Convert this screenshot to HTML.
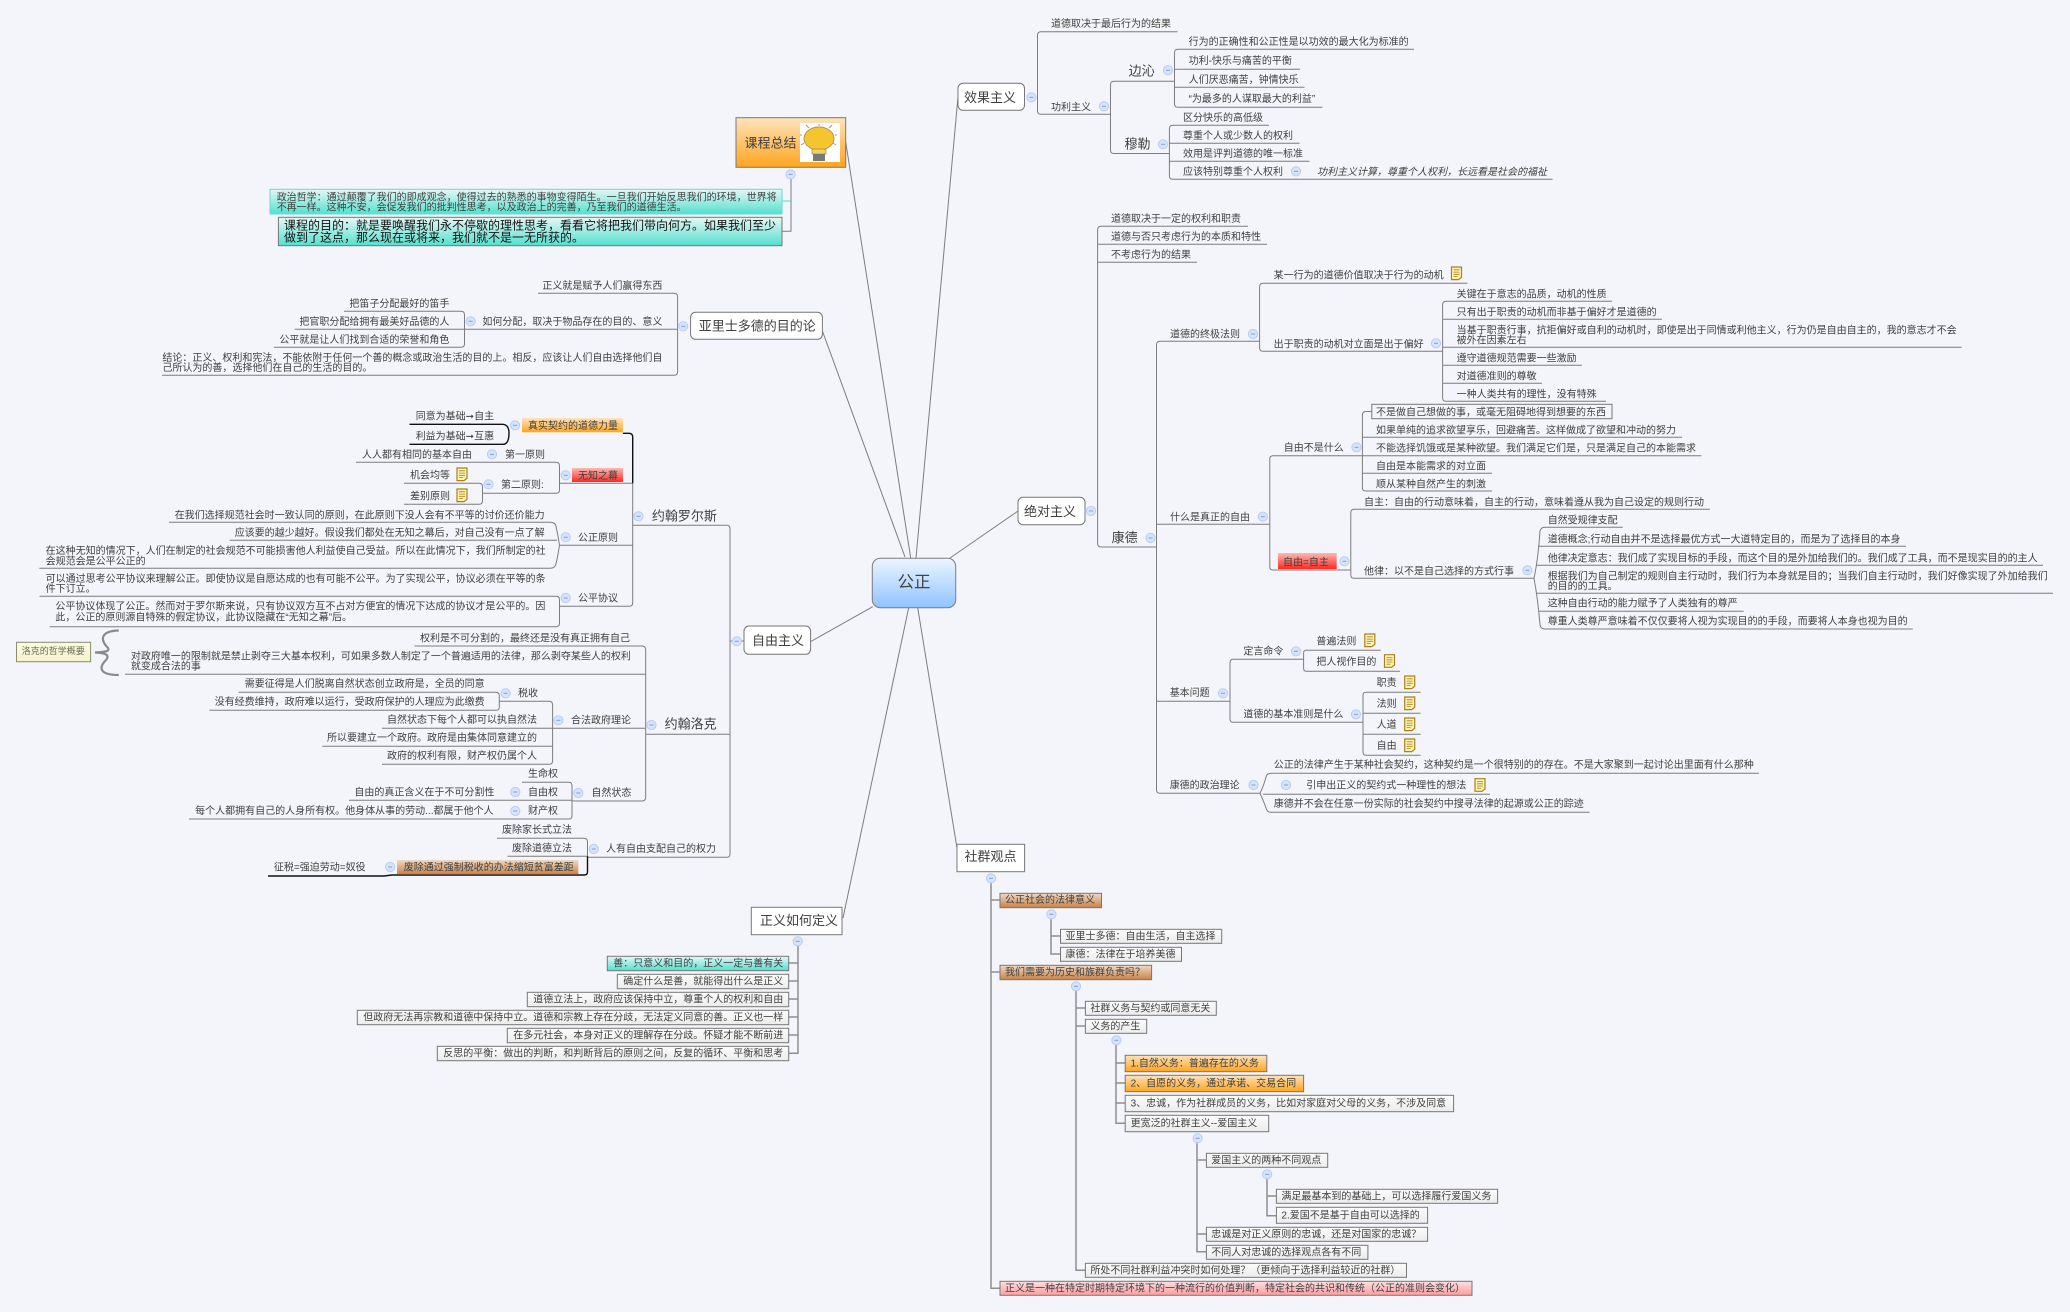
<!DOCTYPE html>
<html lang="zh"><head><meta charset="utf-8"><title>公正</title>
<style>
html,body{margin:0;padding:0;background:#f3f5fa}
svg{display:block;filter:blur(.3px)}
text{font-family:"Liberation Sans","Noto Sans CJK SC",sans-serif;font-size:10px;fill:#3f3f3f}
.b{font-size:13px;fill:#404040}
.r{text-anchor:end}
.l{fill:none;stroke:#7d7d7d;stroke-width:1}
.k{fill:none;stroke:#111;stroke-width:1.4}
.s{fill:none;stroke:#8f8f8f;stroke-width:1.5}
.bx{stroke:#777;stroke-width:1}
</style></head><body>
<svg xmlns="http://www.w3.org/2000/svg" width="2070" height="1312" viewBox="0 0 2070 1312">
<defs>
<linearGradient id="gw" x1="0" y1="0" x2="0" y2="1"><stop offset="0" stop-color="#fbfbfb"/><stop offset="1" stop-color="#ececec"/></linearGradient>
<linearGradient id="gt" x1="0" y1="0" x2="0" y2="1"><stop offset="0" stop-color="#e8f6f5"/><stop offset="1" stop-color="#52e0cf"/></linearGradient>
<linearGradient id="go" x1="0" y1="0" x2="0" y2="1"><stop offset="0" stop-color="#fde3bd"/><stop offset="1" stop-color="#ffa41e"/></linearGradient>
<linearGradient id="gb" x1="0" y1="0" x2="0" y2="1"><stop offset="0" stop-color="#f0dac4"/><stop offset="1" stop-color="#c98248"/></linearGradient>
<linearGradient id="gr" x1="0" y1="0" x2="0" y2="1"><stop offset="0" stop-color="#fbb9b4"/><stop offset="1" stop-color="#ff2a22"/></linearGradient>
<linearGradient id="gp" x1="0" y1="0" x2="0" y2="1"><stop offset="0" stop-color="#fde0e0"/><stop offset="1" stop-color="#ff9c9c"/></linearGradient>
<linearGradient id="gc" x1="0" y1="0" x2="0" y2="1"><stop offset="0" stop-color="#ecf5ff"/><stop offset="1" stop-color="#8fc4ff"/></linearGradient>
<linearGradient id="gy" x1="0" y1="0" x2="0" y2="1"><stop offset="0" stop-color="#fbfbe6"/><stop offset="1" stop-color="#f4f4cc"/></linearGradient>
<g id="t"><circle r="4.6" fill="#d5e3fb" stroke="#b6cdf5" stroke-width="1"/><path d="M-2 0H2" stroke="#7f9fd8" stroke-width="1"/></g>
<g id="n"><path d="M-5 -6.3H5V4L2 6.3H-5Z" fill="#fff3b5" stroke="#a8821a" stroke-width="1.2"/><path d="M-3 -3.5H3M-3 -1.2H3M-3 1H3M-3 3.2H1" stroke="#a8821a" stroke-width=".8"/></g>
</defs>
<rect width="2070" height="1312" fill="#f3f5fa"/>

<!-- root lines -->
<g class="l" stroke-width="1">
<path d="M916 558L958 97M910.7 558L845.7 142M905 557L822.4 331M950 558L1018 511M872.7 606.7L810 642M908.7 607.7L843 918M917.7 607.7L957 848"/>
</g>

<!-- 效果主义 -->
<path class="l" d="M1177.6 31.7H1041Q1037.5 31.7 1037.5 35V111Q1037.5 114.3 1041 114.3H1110M1174 81.3H1114Q1110.5 81.3 1110.5 85V150Q1110.5 153.5 1114 153.5H1169M1414 49.3H1178Q1174.5 49.3 1174.5 53V104Q1174.5 107.3 1178 107.3H1322.4M1174.5 69.3H1300M1174.5 87.3H1304.5M1269 125.3H1173Q1169.4 125.3 1169.4 129V176Q1169.4 179.3 1173 179.3H1552.6M1169.4 143.3H1299.6M1169.4 161.3H1309.4"/>
<rect x="958" y="83.3" width="66.5" height="27" rx="5" fill="#fff" stroke="#777"/>
<text class="b" x="964" y="102">效果主义</text>
<use href="#t" x="1031.4" y="97.3"/><use href="#t" x="1104" y="106.3"/><use href="#t" x="1168" y="70.3"/><use href="#t" x="1163" y="144.3"/><use href="#t" x="1296" y="171.3"/>
<text x="1051" y="27.1">道德取决于最后行为的结果</text>
<text x="1051" y="110.3">功利主义</text>
<text class="b" x="1128.6" y="75.3">边沁</text>
<text class="b" x="1124.5" y="148.3">穆勒</text>
<text x="1188.6" y="44.9">行为的正确性和公正性是以功效的最大化为标准的</text>
<text x="1188.6" y="63.9">功利-快乐与痛苦的平衡</text>
<text x="1188.6" y="82.9">人们厌恶痛苦，钟情快乐</text>
<text x="1188.6" y="101.9">“为最多的人谋取最大的利益”</text>
<text x="1183" y="120.9">区分快乐的高低级</text>
<text x="1183" y="138.9">尊重个人或少数人的权利</text>
<text x="1183" y="156.9">效用是评判道德的唯一标准</text>
<text x="1183" y="174.9">应该特别尊重个人权利</text>
<text x="1317" y="174.9" font-style="italic">功利主义计算，尊重个人权利，长远看是社会的福祉</text>

<!-- 绝对主义 -->
<path class="l" d="M1248 226.3H1101Q1097.6 226.3 1097.6 230V543Q1097.6 547 1101 547H1156.5M1097.6 244.3H1267M1097.6 262.3H1197M1259.6 341.3H1160Q1156.5 341.3 1156.5 345V790Q1156.5 793.3 1160 793.3H1260M1156.5 524.3H1269.8M1156.5 701.3H1230M1467.5 283.3H1263Q1259.6 283.3 1259.6 287V348Q1259.6 351.3 1263 351.3H1442.6M1612 301.3H1446Q1442.6 301.3 1442.6 305V398Q1442.6 401.3 1446 401.3H1606M1442.6 319.3H1662M1442.6 347.3H1961.7M1442.6 365.3H1582M1442.6 383.3H1542M1362 455.7H1273Q1269.8 455.7 1269.8 459V567Q1269.8 570 1273 570H1350.8M1371.8 411.5H1366Q1362.4 411.5 1362.4 415V488Q1362.4 491 1366 491H1492M1362.4 437.3H1682M1362.4 455.7H1701.5M1362.4 473.3H1492M1710 509.3H1354Q1350.8 509.3 1350.8 513V575Q1350.8 578.3 1354 578.3H1534M1622.7 527.3H1545Q1541 527.3 1540 531Q1538 560 1534 578.3Q1538 600 1540 625Q1541 629 1545 629H1912.8M1538 546.3H1906M1536 565.3H2043M1536 593.3H2053M1539 611.3H1743.7M1303.6 659.3H1233Q1230 659.3 1230 663V719Q1230 722.3 1233 722.3H1363M1380.7 650.3H1306Q1303.6 650.3 1303.6 653V668Q1303.6 671.3 1306 671.3H1400M1420.6 692.3H1366Q1363 692.3 1363 695V752Q1363 755.3 1366 755.3H1420.6M1363 713.3H1420.6M1363 734.3H1420.6M1759 773.3H1271Q1267 773.3 1266 777Q1264 785 1260 793.3Q1264 802 1266 808Q1267 812.3 1271 812.3H1589.6M1263 794.3H1490"/>
<rect x="1018" y="497.3" width="67" height="27.4" rx="5" fill="#fff" stroke="#777"/>
<text class="b" x="1024" y="516">绝对主义</text>
<use href="#t" x="1091" y="511"/><use href="#t" x="1150.5" y="538"/><use href="#t" x="1253" y="334"/><use href="#t" x="1436" y="343.3"/><use href="#t" x="1262.8" y="516.7"/><use href="#t" x="1356.5" y="447.3"/><use href="#t" x="1344.4" y="561.3"/><use href="#t" x="1527.4" y="570.3"/><use href="#t" x="1223" y="693.3"/><use href="#t" x="1296" y="651.3"/><use href="#t" x="1356" y="714.3"/><use href="#t" x="1253.5" y="785"/><use href="#t" x="1286" y="785"/>
<text x="1111" y="221.9">道德取决于一定的权利和职责</text>
<text x="1111" y="239.9">道德与否只考虑行为的本质和特性</text>
<text x="1111" y="257.9">不考虑行为的结果</text>
<text class="b" x="1111.6" y="542">康德</text>
<text x="1170" y="337.3">道德的终极法则</text>
<text x="1273.6" y="278.3">某一行为的道德价值取决于行为的动机</text>
<use href="#n" x="1456.5" y="273.3"/>
<text x="1273.6" y="347.3">出于职责的动机对立面是出于偏好</text>
<text x="1456.6" y="297.3">关键在于意志的品质，动机的性质</text>
<text x="1456.6" y="315.3">只有出于职责的动机而非基于偏好才是道德的</text>
<text x="1456.6" y="333.3">当基于职责行事，抗拒偏好或自利的动机时，即使是出于同情或利他主义，行为仍是自由自主的，我的意志才不会</text>
<text x="1456.6" y="343.3">被外在因素左右</text>
<text x="1456.6" y="361.3">遵守道德规范需要一些激励</text>
<text x="1456.6" y="379.3">对道德准则的尊敬</text>
<text x="1456.6" y="397.3">一种人类共有的理性，没有特殊</text>
<text x="1170" y="520.3">什么是真正的自由</text>
<text x="1283.8" y="450.9">自由不是什么</text>
<rect x="1371.8" y="404.3" width="240.2" height="14.4" fill="none" stroke="#777"/>
<text x="1376" y="415.3">不是做自己想做的事，或毫无阻碍地得到想要的东西</text>
<text x="1376" y="433.3">如果单纯的追求欲望享乐，回避痛苦。这样做成了欲望和冲动的努力</text>
<text x="1376" y="451.3">不能选择饥饿或是某种欲望。我们满足它们是，只是满足自己的本能需求</text>
<text x="1376" y="469.3">自由是本能需求的对立面</text>
<text x="1376" y="487.3">顺从某种自然产生的刺激</text>
<rect x="1278" y="553" width="58.7" height="16" fill="url(#gr)"/>
<text x="1283" y="565.3">自由=自主</text>
<text x="1364" y="505.3">自主：自由的行动意味着，自主的行动，意味着遵从我为自己设定的规则行动</text>
<text x="1364" y="574.3">他律：以不是自己选择的方式行事</text>
<text x="1547.7" y="523.3">自然受规律支配</text>
<text x="1547.7" y="542.3">道德概念;行动自由并不是选择最优方式一大道特定目的，而是为了选择目的本身</text>
<text x="1547.7" y="561.3">他律决定意志：我们成了实现目标的手段，而这个目的是外加给我们的。我们成了工具，而不是现实目的的主人</text>
<text x="1547.7" y="579.3">根据我们为自己制定的规则自主行动时，我们行为本身就是目的；当我们自主行动时，我们好像实现了外加给我们</text>
<text x="1547.7" y="589.3">的目的的工具。</text>
<text x="1547.7" y="606.3">这种自由行动的能力赋予了人类独有的尊严</text>
<text x="1547.7" y="624.3">尊重人类尊严意味着不仅仅要将人视为实现目的的手段，而要将人本身也视为目的</text>
<text x="1169.7" y="695.9">基本问题</text>
<text x="1243.4" y="654.3">定言命令</text>
<text x="1316.4" y="644.3">普遍法则</text><use href="#n" x="1369.8" y="640.3"/>
<text x="1316.4" y="664.9">把人视作目的</text><use href="#n" x="1389.5" y="661"/>
<text x="1243.4" y="717.3">道德的基本准则是什么</text>
<text x="1376.6" y="685.9">职责</text><use href="#n" x="1409.7" y="682.3"/>
<text x="1376.6" y="706.9">法则</text><use href="#n" x="1409.7" y="703.3"/>
<text x="1376.6" y="727.9">人道</text><use href="#n" x="1409.7" y="724.3"/>
<text x="1376.6" y="748.9">自由</text><use href="#n" x="1409.7" y="745.3"/>
<text x="1169.7" y="788.3">康德的政治理论</text>
<text x="1273.8" y="767.9">公正的法律产生于某种社会契约，这种契约是一个很特别的的存在。不是大家聚到一起讨论出里面有什么那种</text>
<text x="1306.3" y="788.6">引申出正义的契约式一种理性的想法</text><use href="#n" x="1480" y="785"/>
<text x="1273.8" y="806.9">康德并不会在任意一份实际的社会契约中搜寻法律的起源或公正的踪迹</text>

<!-- 社群观点 -->
<path class="s" d="M991 883V1288.3H1000M991 900H1000M991 972H1000M1051 919V954H1060.5M1051 936H1060.5M1076 991V1270.3H1085.4M1076 1008H1085.4M1076 1026H1085.4M1116 1045V1123.3H1125.2M1116 1063H1125.2M1116 1083H1125.2M1116 1103H1125.2M1197 1143V1251.7H1206.4M1197 1160H1206.4M1197 1234H1206.4M1267 1179V1215.7H1276.4M1267 1196H1276.4"/>
<rect x="957" y="844.3" width="67.6" height="27.4" fill="#fff" stroke="#777"/>
<text class="b" x="964.5" y="861">社群观点</text>
<use href="#t" x="991" y="878.3"/><use href="#t" x="1051.4" y="914.3"/><use href="#t" x="1076" y="986.3"/><use href="#t" x="1116.4" y="1040.3"/><use href="#t" x="1197.6" y="1138.3"/><use href="#t" x="1267.2" y="1174.3"/>
<rect class="bx" x="1000" y="893.3" width="101.5" height="14.4" fill="url(#gb)"/>
<text x="1005" y="902.9">公正社会的法律意义</text>
<rect class="bx" x="1060.5" y="929.3" width="161.2" height="14" fill="url(#gw)"/>
<text x="1065.5" y="939.3">亚里士多德：自由生活，自主选择</text>
<rect class="bx" x="1060.5" y="947.3" width="121" height="14" fill="url(#gw)"/>
<text x="1065.5" y="957.3">康德：法律在于培养美德</text>
<rect class="bx" x="1000" y="965.3" width="151.6" height="14.4" fill="url(#gb)"/>
<text x="1005" y="975.3">我们需要为历史和族群负责吗？</text>
<rect class="bx" x="1085.4" y="1001.3" width="130.9" height="14" fill="url(#gw)"/>
<text x="1090.4" y="1011.3">社群义务与契约或同意无关</text>
<rect class="bx" x="1085.4" y="1019.3" width="61.3" height="14" fill="url(#gw)"/>
<text x="1090.4" y="1029.3">义务的产生</text>
<rect class="bx" x="1125.2" y="1055.3" width="141.6" height="16.4" fill="url(#go)"/>
<text x="1130.6" y="1066.3">1.自然义务：普遍存在的义务</text>
<rect class="bx" x="1125.2" y="1075.3" width="178.4" height="16.4" fill="url(#go)"/>
<text x="1130.6" y="1086.3">2、自愿的义务，通过承诺、交易合同</text>
<rect class="bx" x="1125.2" y="1095.3" width="328.4" height="16.4" fill="url(#gw)"/>
<text x="1130.6" y="1106.3">3、忠诚，作为社群成员的义务，比如对家庭对父母的义务，不涉及同意</text>
<rect class="bx" x="1125.2" y="1115.3" width="143.5" height="16.4" fill="url(#gw)"/>
<text x="1130.6" y="1126.3">更宽泛的社群主义--爱国主义</text>
<rect class="bx" x="1206.4" y="1153.3" width="121.3" height="14" fill="url(#gw)"/>
<text x="1211.3" y="1163.3">爱国主义的两种不同观点</text>
<rect class="bx" x="1276.4" y="1189.3" width="221.2" height="14" fill="url(#gw)"/>
<text x="1281.4" y="1199.3">满足最基本到的基础上，可以选择履行爱国义务</text>
<rect class="bx" x="1276.4" y="1207.3" width="151.2" height="16" fill="url(#gw)"/>
<text x="1281.4" y="1218.3">2.爱国不是基于自由可以选择的</text>
<rect class="bx" x="1206.4" y="1227.3" width="221.2" height="14" fill="url(#gw)"/>
<text x="1211.3" y="1237.3">忠诚是对正义原则的忠诚，还是对国家的忠诚？</text>
<rect class="bx" x="1206.4" y="1245.3" width="161.5" height="14" fill="url(#gw)"/>
<text x="1211.3" y="1255.3">不同人对忠诚的选择观点各有不同</text>
<rect class="bx" x="1085.4" y="1263.3" width="321.1" height="14" fill="url(#gw)"/>
<text x="1090.4" y="1273.3">所处不同社群利益冲突时如何处理？（更倾向于选择利益较近的社群）</text>
<rect class="bx" x="1000" y="1281.3" width="472" height="14" fill="url(#gp)"/>
<text x="1005" y="1291.3">正义是一种在特定时期特定环境下的一种流行的价值判断，特定社会的共识和传统（公正的准则会变化）</text>

<!-- 课程总结 -->
<path class="l" d="M791 179V231.3H782"/>
<path d="M791 201H782" fill="none" stroke="#4fd8c8"/>
<rect class="bx" x="736" y="117.7" width="109.7" height="49.6" fill="url(#go)"/>
<text class="b" x="744.5" y="147.3">课程总结</text>
<rect x="800" y="123" width="40" height="39" fill="#fff"/>
<ellipse cx="819" cy="138.5" rx="15" ry="11.5" fill="#f5c52e" stroke="#b3975a"/>
<path d="M812 149H826V154H812Z" fill="#f0d060" stroke="#a08a50" stroke-width=".7"/>
<rect x="813" y="154" width="12" height="7" fill="#777"/>
<path d="M806 125L809 128M819 124V126M832 125L829 128M837 135H835M802 135H800M836 145L833 143M801 145L804 143" stroke="#999" stroke-width="1" fill="none"/>
<use href="#t" x="790.6" y="174.3"/>
<rect x="270" y="189.3" width="512" height="24.7" fill="url(#gt)" stroke="#5de0d0"/>
<text x="276.7" y="200.3">政治哲学：通过颠覆了我们的即成观念，使得过去的熟悉的事物变得陌生。一旦我们开始反思我们的环境，世界将</text>
<text x="276.7" y="210.3">不再一样。这种不安，会促发我们的批判性思考，以及政治上的完善，乃至我们的道德生活。</text>
<rect class="bx" x="278.4" y="217.3" width="503.6" height="28.4" fill="url(#gt)"/>
<text x="284" y="229.5" style="font-size:12px;fill:#111">课程的目的：就是要唤醒我们永不停歇的理性思考，看看它将把我们带向何方。如果我们至少</text>
<text x="284" y="241.5" style="font-size:12px;fill:#111">做到了这点，那么现在或将来，我们就不是一无所获的。</text>

<!-- 亚里士多德 -->
<path class="l" d="M538 293.3H674Q677.6 293.3 677.6 297V372Q677.6 375.3 674 375.3H162M677.6 329.3H464.5M344 311.3H461Q464.5 311.3 464.5 315V344Q464.5 347.3 461 347.3H274M464.5 329.3H294.7"/>
<rect x="690.6" y="312.3" width="131.8" height="27" rx="5" fill="#fff" stroke="#777"/>
<text class="b" x="698.8" y="330.3">亚里士多德的目的论</text>
<use href="#t" x="683.3" y="326.3"/><use href="#t" x="470.6" y="321.3"/>
<text class="r" x="662.4" y="288.9">正义就是赋予人们赢得东西</text>
<text class="r" x="662.4" y="324.9">如何分配，取决于物品存在的目的、意义</text>
<text class="r" x="449.4" y="306.9">把笛子分配最好的笛手</text>
<text class="r" x="449.4" y="324.9">把官职分配给拥有最美好品德的人</text>
<text class="r" x="449.4" y="342.9">公平就是让人们找到合适的荣誉和角色</text>
<text x="162.4" y="360.9">结论：正义、权利和宪法，不能依附于任何一个善的概念或政治生活的目的上。相反，应该让人们自由选择他们自</text>
<text x="162.4" y="370.9">己所认为的善，选择他们在自己的生活的目的。</text>

<!-- 自由主义 -->
<path class="l" d="M632.7 525.3H727Q730 525.3 730 529V854Q730 857.3 727 857.3H587.5M645.7 734.3H730M730 641H745M632.7 483.3V603Q632.7 606.3 629 606.3H559.5M632.7 483.3H559.5M632.7 545.3H559.5M356 462.3H556Q559.5 462.3 559.5 466V490Q559.5 493.3 556 493.3H482.5M404 483.3H479Q482.5 483.3 482.5 487V501Q482.5 504.3 479 504.3H404M169 522.3H550Q555 522.3 556 526Q558 535 559.5 545.3Q558 555 556 564Q555 568.3 550 568.3H39.4M229.6 540.3H557M39.4 596.3H556Q559.5 596.3 559.5 600V623Q559.5 626.7 556 626.7H49.6M414.4 646H642Q645.7 646 645.7 650V797Q645.7 801 642 801H572M125 674.3H645.7M645.7 728.3H382M499.3 701.3H549Q552.6 701.3 552.6 705V761Q552.6 764.3 549 764.3H382M322.3 746.3H552.6M238.5 692.3H496Q499.3 692.3 499.3 696V707Q499.3 710.3 496 710.3H209.4M522 782.3H569Q572 782.3 572 786V816Q572 819 569 819H189M349 800.3H572M496.9 838.3H584Q587.5 838.3 587.5 842V856.3M507.5 856.3H587.5"/>
<path class="k" d="M622.9 433.3H629Q632.7 433.3 632.7 437V483.3M409.5 424.3H503Q509 425 509 433Q509 444.3 503 444.3H409.5M268 876H384L392 875H584Q587.5 875 587.5 872V856.3"/>
<rect x="744" y="626" width="66.6" height="28.3" rx="5" fill="#fff" stroke="#777"/>
<text class="b" x="752" y="645">自由主义</text>
<use href="#t" x="736.8" y="641.3"/><use href="#t" x="638.5" y="516.3"/><use href="#t" x="515" y="425.3"/><use href="#t" x="565.7" y="475.3"/><use href="#t" x="492" y="454.3"/><use href="#t" x="488.5" y="484.3"/><use href="#t" x="565.7" y="537.3"/><use href="#t" x="565.7" y="598"/><use href="#t" x="651.5" y="725"/><use href="#t" x="558.4" y="720.3"/><use href="#t" x="505.6" y="693.3"/><use href="#t" x="578.3" y="793"/><use href="#t" x="515.3" y="792"/><use href="#t" x="515.3" y="811"/><use href="#t" x="593.8" y="849"/><use href="#t" x="390.2" y="867"/>
<text class="b" x="651.9" y="520.7">约翰罗尔斯</text>
<rect x="522" y="418" width="100.9" height="14.3" fill="url(#go)"/>
<text x="528" y="428.9">真实契约的道德力量</text>
<text x="415.7" y="419.3">同意为基础➞自主</text>
<text x="415.7" y="439.3">利益为基础➞互惠</text>
<rect x="572" y="468" width="51" height="14" fill="url(#gr)"/>
<text x="578" y="478.9">无知之幕</text>
<text x="505" y="457.9">第一原则</text>
<text class="r" x="472" y="457.9">人人都有相同的基本自由</text>
<text x="501" y="487.9">第二原则:</text>
<text x="410" y="478.3">机会均等</text><use href="#n" x="462" y="474.3"/>
<text x="410" y="499.3">差别原则</text><use href="#n" x="462" y="495.3"/>
<text x="578" y="540.9">公正原则</text>
<text class="r" x="544.7" y="518.3">在我们选择规范社会时一致认同的原则，在此原则下没人会有不平等的讨价还价能力</text>
<text class="r" x="544.7" y="535.9">应该要的越少越好。假设我们都处在无知之幕后，对自己没有一点了解</text>
<text x="45.6" y="553.9">在这种无知的情况下，人们在制定的社会规范不可能损害他人利益使自己受益。所以在此情况下，我们所制定的社</text>
<text x="45.6" y="564.3">会规范会是公平公正的</text>
<text x="578" y="601.3">公平协议</text>
<text x="45.6" y="581.9">可以通过思考公平协议来理解公正。即使协议是自愿达成的也有可能不公平。为了实现公平，协议必须在平等的条</text>
<text x="45.6" y="591.9">件下订立。</text>
<text x="55.4" y="609.3">公平协议体现了公正。然而对于罗尔斯来说，只有协议双方互不占对方便宜的情况下达成的协议才是公平的。因</text>
<text x="55.4" y="620.3">此，公正的原则源自特殊的假定协议，此协议隐藏在“无知之幕”后。</text>

<rect x="16.5" y="642.3" width="74.1" height="19.4" fill="url(#gy)" stroke="#8c8c70"/>
<text x="21.8" y="654.2" style="font-size:9px;fill:#6c6c50">洛克的哲学概要</text>
<path d="M118.8 630.5C100 631 100 640 108 648C110 651 106 652 95 652.5C106 653 110 655 106 660C98 668 100 675 118.8 675" fill="none" stroke="#8a8a8a" stroke-width="2.2"/>
<text class="b" x="664.6" y="728.3">约翰洛克</text>
<text class="r" x="630" y="641.3">权利是不可分割的，最终还是没有真正拥有自己</text>
<text x="130.9" y="659.3">对政府唯一的限制就是禁止剥夺三大基本权利，可如果多数人制定了一个普遍适用的法律，那么剥夺某些人的权利</text>
<text x="130.9" y="669.3">就变成合法的事</text>
<text x="571" y="723.3">合法政府理论</text>
<text x="518" y="696.3">税收</text>
<text class="r" x="484.7" y="686.9">需要征得是人们脱离自然状态创立政府是，全员的同意</text>
<text class="r" x="484.7" y="704.9">没有经费维持，政府难以运行，受政府保护的人理应为此缴费</text>
<text class="r" x="537" y="722.9">自然状态下每个人都可以执自然法</text>
<text class="r" x="537" y="740.9">所以要建立一个政府。政府是由集体同意建立的</text>
<text class="r" x="537" y="758.9">政府的权利有限，财产权仍属个人</text>
<text x="591.4" y="795.9">自然状态</text>
<text x="528" y="776.9">生命权</text>
<text x="528" y="795.3">自由权</text>
<text class="r" x="494.4" y="795.3">自由的真正含义在于不可分割性</text>
<text x="528" y="813.9">财产权</text>
<text class="r" x="493.5" y="813.9">每个人都拥有自己的人身所有权。他身体从事的劳动...都属于他个人</text>
<text x="606" y="851.9">人有自由支配自己的权力</text>
<text class="r" x="572" y="832.9">废除家长式立法</text>
<text class="r" x="572" y="851.3">废除道德立法</text>
<rect x="397" y="860" width="181.3" height="14.3" fill="url(#gb)"/>
<text x="403.8" y="870.6">废除通过强制税收的办法缩短贫富差距</text>
<text x="273.9" y="870.3">征税=强迫劳动=奴役</text>

<!-- 正义如何定义 -->
<path class="s" d="M798 946V1053.3H788.7M798 963H788.7M798 981H788.7M798 999H788.7M798 1017H788.7M798 1035H788.7"/>
<rect x="751.3" y="907.3" width="90.7" height="27.4" fill="#fff" stroke="#777"/>
<text class="b" x="760" y="925">正义如何定义</text>
<use href="#t" x="797.7" y="941.3"/>
<rect class="bx" x="607.3" y="956.3" width="181.4" height="14.4" fill="url(#gt)"/>
<text x="613.3" y="966.3">善：只意义和目的，正义一定与善有关</text>
<rect class="bx" x="617.3" y="974.3" width="171.4" height="14.4" fill="url(#gw)"/>
<text x="623.3" y="984.3">确定什么是善，就能得出什么是正义</text>
<rect class="bx" x="527.3" y="992.3" width="261.4" height="14.4" fill="url(#gw)"/>
<text x="533.3" y="1002.3">道德立法上，政府应该保持中立，尊重个人的权利和自由</text>
<rect class="bx" x="357.3" y="1010.3" width="431.4" height="14.4" fill="url(#gw)"/>
<text x="363.3" y="1020.3">但政府无法再宗教和道德中保持中立。道德和宗教上存在分歧，无法定义同意的善。正义也一样</text>
<rect class="bx" x="507.3" y="1028.3" width="281.4" height="14.4" fill="url(#gw)"/>
<text x="513.3" y="1038.3">在多元社会，本身对正义的理解存在分歧。怀疑才能不断前进</text>
<rect class="bx" x="437.3" y="1046.3" width="351.4" height="14.4" fill="url(#gw)"/>
<text x="443.3" y="1056.3">反思的平衡：做出的判断，和判断背后的原则之间，反复的循环、平衡和思考</text>

<!-- root -->
<rect x="872.3" y="558.3" width="83.4" height="49.4" rx="8" fill="url(#gc)" stroke="#7d7d7d"/>
<text x="897.5" y="587.5" style="font-size:16.5px;fill:#444">公正</text>
</svg>
</body></html>
